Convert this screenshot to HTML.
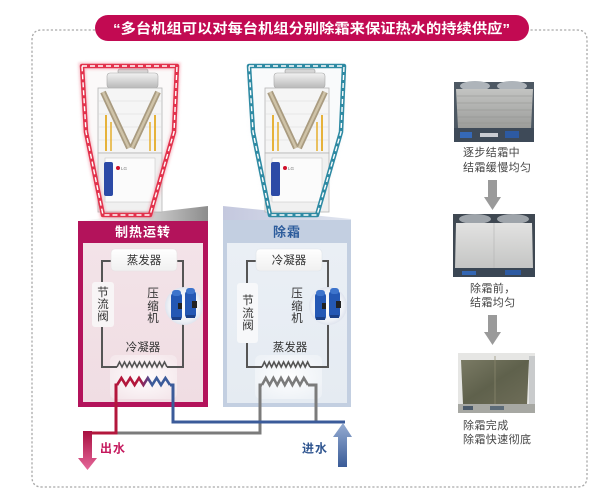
<!DOCTYPE html>
<html><head><meta charset="utf-8">
<style>
html,body{margin:0;padding:0;background:#fff;}
svg{display:block;}
text{font-family:"Liberation Sans","Noto Sans CJK SC",sans-serif;}
</style></head>
<body>
<svg width="616" height="500" viewBox="0 0 616 500" xmlns="http://www.w3.org/2000/svg">
<defs>
  <linearGradient id="gwedge" x1="0" y1="0" x2="1" y2="0">
    <stop offset="0" stop-color="#ffffff"/><stop offset="0.5" stop-color="#d8d8d8"/><stop offset="1" stop-color="#8c8c8c"/>
  </linearGradient>
  <linearGradient id="bwedge" x1="0" y1="0" x2="1" y2="0">
    <stop offset="0" stop-color="#c4c8de"/><stop offset="1" stop-color="#dfe4ef"/>
  </linearGradient>
  <linearGradient id="pinkIn" x1="0" y1="0" x2="0" y2="1">
    <stop offset="0" stop-color="#f3e3e8"/><stop offset="1" stop-color="#f0dde3"/>
  </linearGradient>
  <linearGradient id="blueIn" x1="0" y1="0" x2="0" y2="1">
    <stop offset="0" stop-color="#eaeff5"/><stop offset="1" stop-color="#e5ebf2"/>
  </linearGradient>
  <linearGradient id="boxg" x1="0" y1="0" x2="0" y2="1">
    <stop offset="0" stop-color="#ffffff"/><stop offset="1" stop-color="#f0f0f0"/>
  </linearGradient>
  <radialGradient id="glowbox" cx="0.5" cy="0.5" r="0.6">
    <stop offset="0" stop-color="#ffffff" stop-opacity="0.95"/><stop offset="1" stop-color="#ffffff" stop-opacity="0.3"/>
  </radialGradient>
  <radialGradient id="compc" cx="0.5" cy="0.5" r="0.5">
    <stop offset="0" stop-color="#ffffff"/><stop offset="0.8" stop-color="#eef1f6"/><stop offset="1" stop-color="#dfe4ee"/>
  </radialGradient>
  <linearGradient id="wz" gradientUnits="userSpaceOnUse" x1="117" y1="0" x2="170" y2="0">
    <stop offset="0" stop-color="#b3173c"/><stop offset="0.42" stop-color="#b3173c"/>
    <stop offset="0.55" stop-color="#6e3577"/><stop offset="0.65" stop-color="#3b5b9a"/><stop offset="1" stop-color="#3b5b9a"/>
  </linearGradient>
  <linearGradient id="outArrow" x1="0" y1="0" x2="0" y2="1">
    <stop offset="0" stop-color="#a80f40"/><stop offset="1" stop-color="#e5679a"/>
  </linearGradient>
  <linearGradient id="inArrow" x1="0" y1="0" x2="0" y2="1">
    <stop offset="0" stop-color="#95acd2"/><stop offset="1" stop-color="#3b5c98"/>
  </linearGradient>
  <linearGradient id="fan" x1="0" y1="0" x2="0" y2="1">
    <stop offset="0" stop-color="#f2f2f2"/><stop offset="1" stop-color="#b9b9b9"/>
  </linearGradient>
  <linearGradient id="ph1" x1="0" y1="0" x2="0" y2="1">
    <stop offset="0" stop-color="#c3c4c2"/><stop offset="1" stop-color="#9c9d9a"/>
  </linearGradient>
  <linearGradient id="ph2" x1="0" y1="0" x2="0" y2="1">
    <stop offset="0" stop-color="#e2e2e1"/><stop offset="1" stop-color="#c4c5c4"/>
  </linearGradient>
  <linearGradient id="ph3" x1="0" y1="0" x2="1" y2="1">
    <stop offset="0" stop-color="#7a7a64"/><stop offset="0.5" stop-color="#5f614c"/><stop offset="1" stop-color="#6e6d58"/>
  </linearGradient>
  <filter id="blur3" x="-20%" y="-20%" width="140%" height="140%"><feGaussianBlur stdDeviation="3"/></filter>
  <filter id="blur1" x="-20%" y="-20%" width="140%" height="140%"><feGaussianBlur stdDeviation="1.2"/></filter>

  <g id="unit">
    <rect x="118" y="69" width="30" height="5" rx="2" fill="#d6d6d6" stroke="#999" stroke-width="0.6"/>
    <rect x="107" y="73" width="51" height="15" rx="3" fill="url(#fan)" stroke="#a8a8a8" stroke-width="0.6"/>
    <rect x="98" y="88" width="64" height="65" fill="#f5f5f5" stroke="#b5b5b5" stroke-width="0.8"/>
    <line x1="98" y1="101" x2="162" y2="101" stroke="#d8d8d8" stroke-width="0.6"/>
    <line x1="98" y1="114" x2="162" y2="114" stroke="#d8d8d8" stroke-width="0.6"/>
    <line x1="98" y1="127" x2="162" y2="127" stroke="#d8d8d8" stroke-width="0.6"/>
    <line x1="98" y1="140" x2="162" y2="140" stroke="#d8d8d8" stroke-width="0.6"/>
    <line x1="106" y1="115" x2="106" y2="151" stroke="#e6b23a" stroke-width="2"/>
    <line x1="111" y1="122" x2="111" y2="151" stroke="#e6b23a" stroke-width="1.6"/>
    <line x1="150" y1="122" x2="150" y2="151" stroke="#e6b23a" stroke-width="1.6"/>
    <line x1="155" y1="115" x2="155" y2="151" stroke="#e6b23a" stroke-width="2"/>
    <line x1="103" y1="92" x2="129" y2="148" stroke="#a99b80" stroke-width="6"/>
    <line x1="158" y1="92" x2="132" y2="148" stroke="#a99b80" stroke-width="6"/>
    <line x1="103" y1="92" x2="129" y2="148" stroke="#cfc3a8" stroke-width="2.5"/>
    <line x1="158" y1="92" x2="132" y2="148" stroke="#cfc3a8" stroke-width="2.5"/>
    <rect x="98" y="153" width="64" height="59" fill="#f0f0f0" stroke="#b5b5b5" stroke-width="0.8"/>
    <rect x="105" y="158" width="50" height="44" fill="#fbfbfb" stroke="#c8c8c8" stroke-width="0.6"/>
    <rect x="104" y="162" width="9" height="34" rx="2" fill="#2c4aa6"/>
    <circle cx="118" cy="168" r="2" fill="#d0102a"/>
    <text x="121" y="170" font-size="4.5" fill="#777">LG</text>
  </g>

  <g id="comp">
    <circle cx="0" cy="0" r="19" fill="url(#compc)"/>
    <rect x="-13" y="-13" width="11" height="27" rx="3" fill="#2458b4"/>
    <rect x="-12" y="-16" width="9" height="6" rx="3" fill="#3d74cc"/>
    <rect x="-6" y="-3" width="4" height="6" fill="#222"/>
    <rect x="1" y="-15" width="11" height="27" rx="3" fill="#2458b4"/>
    <rect x="2" y="-18" width="9" height="6" rx="3" fill="#3d74cc"/>
    <rect x="8" y="-5" width="5" height="7" fill="#222"/>
    <rect x="-12" y="11" width="9" height="3" fill="#1a3f86"/>
    <rect x="2" y="9" width="9" height="3" fill="#1a3f86"/>
  </g>
</defs>

<!-- dashed frame -->
<path d="M95,30 L42,30 Q32,30 32,40 L32,477 Q32,487 42,487 L577,487 Q587,487 587,477 L587,40 Q587,30 577,30 L529,30" fill="none" stroke="#a9a9a9" stroke-width="1.3" stroke-dasharray="2.2,2"/>

<!-- title banner -->
<rect x="95" y="15" width="434" height="26" rx="13" fill="#c20a52"/>
<text x="113" y="33.5" font-size="14" font-weight="bold" fill="#ffffff" textLength="397" lengthAdjust="spacingAndGlyphs">“多台机组可以对每台机组分别除霜来保证热水的持续供应”</text>

<!-- ground wedges -->
<polygon points="78,221 208,206 208,221" fill="url(#gwedge)"/>
<polygon points="223,206 351,219 351,221 223,221" fill="url(#bwedge)"/>

<!-- left unit -->
<polygon points="82,66 177,66 174,132 150,215 103,215 86,132" fill="#e9d8dc" opacity="0.6" filter="url(#blur3)"/>
<polygon points="84,68 175,68 172,132 149,213 104,213 88,132" fill="#fbf9f9"/>
<use href="#unit"/>
<polygon points="82,66 177,66 174,132 150,215 103,215 86,132" fill="none" stroke="#f06a80" stroke-width="7" opacity="0.35" filter="url(#blur1)"/>
<polygon points="82,66 177,66 174,132 150,215 103,215 86,132" fill="none" stroke="#e2324c" stroke-width="4.5" stroke-linejoin="round"/>
<polygon points="82,66 177,66 174,132 150,215 103,215 86,132" fill="none" stroke="#ffffff" stroke-width="1.4" stroke-dasharray="5,3"/>

<!-- right unit -->
<g transform="translate(167,0)">
<polygon points="82,66 177,66 174,132 150,215 103,215 86,132" fill="#d5dde3" opacity="0.6" filter="url(#blur3)"/>
<polygon points="84,68 175,68 172,132 149,213 104,213 88,132" fill="#f9fafb"/>
<use href="#unit"/>
<polygon points="82,66 177,66 174,132 150,215 103,215 86,132" fill="none" stroke="#2e8aa3" stroke-width="4.5" stroke-linejoin="round"/>
<polygon points="82,66 177,66 174,132 150,215 103,215 86,132" fill="none" stroke="#ffffff" stroke-width="1.4" stroke-dasharray="5,3"/>
</g>

<!-- left panel -->
<rect x="78" y="221" width="130" height="186" fill="#b3135b"/>
<rect x="83" y="243" width="120" height="159" fill="url(#pinkIn)"/>
<text x="143" y="236.5" font-size="13" font-weight="bold" fill="#ffffff" text-anchor="middle" letter-spacing="1">制热运转</text>

<!-- right panel -->
<rect x="223" y="220" width="128" height="187" fill="#c3cfe1"/>
<rect x="227" y="243" width="120" height="160" fill="url(#blueIn)"/>
<text x="287" y="236.5" font-size="13" font-weight="bold" fill="#2c5c9c" text-anchor="middle" letter-spacing="1">除霜</text>

<!-- glow boxes for coils -->
<rect x="110" y="355" width="67" height="44" rx="6" fill="url(#glowbox)"/>
<rect x="255" y="355" width="67" height="44" rx="6" fill="url(#glowbox)"/>

<!-- left refrigerant loop -->
<g fill="none" stroke="#555" stroke-width="2">
<polyline points="117,367 102,367 102,261 183,261 183,367 167,367"/>
<polyline points="117,367 119.5,362 122,367 124.5,362 127,367 129.5,362 132,367 134.5,362 137,367 139.5,362 142,367 144.5,362 147,367 149.5,362 152,367 154.5,362 157,367 159.5,362 162,367 164.5,362 167,367" stroke-width="1.6"/>
</g>
<!-- right refrigerant loop -->
<g fill="none" stroke="#555" stroke-width="2">
<polyline points="262,367 247,367 247,261 328,261 328,367 310,367"/>
<polyline points="262,367 264.4,362 266.8,367 269.2,362 271.6,367 274,362 276.4,367 278.8,362 281.2,367 283.6,362 286,367 288.4,362 290.8,367 293.2,362 295.6,367 298,362 300.4,367 302.8,362 305.2,367 307.6,362 310,367" stroke-width="1.6"/>
</g>

<!-- labels boxes -->
<rect x="111" y="249" width="66" height="22" rx="4" fill="url(#boxg)" stroke="#e6e0e2" stroke-width="0.6"/>
<text x="144" y="264" font-size="11.5" fill="#333" text-anchor="middle">蒸发器</text>
<rect x="92" y="282" width="22" height="45" rx="3" fill="#f8f5f6"/>
<g font-size="11.5" fill="#333" text-anchor="middle">
<text x="103" y="296">节</text><text x="103" y="308">流</text><text x="103" y="320">阀</text>
<text x="153" y="297">压</text><text x="153" y="310">缩</text><text x="153" y="322">机</text>
<text x="143" y="351">冷凝器</text>
</g>
<use href="#comp" transform="translate(184,306)"/>

<rect x="256" y="249" width="66" height="22" rx="4" fill="url(#boxg)" stroke="#dfe4ea" stroke-width="0.6"/>
<text x="289" y="264" font-size="11.5" fill="#333" text-anchor="middle">冷凝器</text>
<rect x="237" y="283" width="21" height="60" rx="3" fill="#f7f8fa"/>
<g font-size="11.5" fill="#333" text-anchor="middle">
<text x="248" y="304">节</text><text x="248" y="317">流</text><text x="248" y="329">阀</text>
<text x="297" y="297">压</text><text x="297" y="310">缩</text><text x="297" y="322">机</text>
<text x="290" y="351">蒸发器</text>
</g>
<use href="#comp" transform="translate(328,306)"/>

<!-- water pipes -->
<g fill="none" stroke-width="3" stroke-linejoin="miter">
<polyline points="308,385 316,385 316,422" stroke="#7b7b7b"/>
<polyline points="262,385 260,385 260,433 116,433" stroke="#7b7b7b"/>
<polyline points="262,385 265.8,378 269.6,385 273.4,378 277.2,385 281,378 284.8,385 288.6,378 292.4,385 296.2,378 300,385 303.8,378 308,385" stroke="#7b7b7b" stroke-width="2.6"/>
<polyline points="170,385 173,385 173,422 345,422" stroke="#3b5b9a"/>
<polyline points="117,385 116,385 116,433 86,433" stroke="#b3173c"/>
<polyline points="117,385 121.4,378 125.8,385 130.2,378 134.6,385 139,378 143.4,385 147.8,378 152.2,385 156.6,378 161,385 165.4,378 170,385" stroke="url(#wz)" stroke-width="2.6"/>
</g>

<!-- out arrow -->
<path d="M83,431 L92,431 L92,458 L97,458 L87.5,470 L78,458 L83,458 Z" fill="url(#outArrow)"/>
<text x="100" y="452.5" font-size="12" font-weight="bold" fill="#c5185d" letter-spacing="1">出水</text>
<!-- in arrow -->
<path d="M343,423 L352,437 L347,437 L347,467 L338,467 L338,437 L333,437 Z" fill="url(#inArrow)"/>
<text x="302" y="452.5" font-size="12" font-weight="bold" fill="#2f5590" letter-spacing="1">进水</text>

<!-- right column photos -->
<g>
<rect x="454" y="82" width="80" height="60" fill="#4d5863"/>
<ellipse cx="475" cy="86" rx="15" ry="5" fill="#aeb4ba"/>
<ellipse cx="512" cy="86" rx="15" ry="5" fill="#aeb4ba"/>
<polygon points="456,89 533,89 531,128 458,128" fill="url(#ph1)"/>
<g stroke="#8f908d" stroke-width="0.5">
<line x1="457" y1="96" x2="532" y2="96"/><line x1="457" y1="103" x2="532" y2="103"/>
<line x1="457" y1="110" x2="532" y2="110"/><line x1="458" y1="117" x2="531" y2="117"/>
<line x1="458" y1="123" x2="531" y2="123"/>
</g>
<rect x="454" y="128" width="80" height="14" fill="#3e4a58"/>
<rect x="460" y="132" width="12" height="6" fill="#3569b8"/>
<rect x="480" y="133" width="18" height="4" fill="#c9ccd2"/>
<rect x="505" y="131" width="14" height="7" fill="#2d5aa2"/>
</g>
<text x="463" y="156" font-size="11" fill="#444" letter-spacing="0.4">逐步结霜中</text>
<text x="463" y="171" font-size="11" fill="#444" letter-spacing="0.4">结霜缓慢均匀</text>
<path d="M488,180 L497,180 L497,197 L501,197 L492.5,210 L484,197 L488,197 Z" fill="#9a9a9a"/>

<g>
<rect x="453" y="214" width="82" height="63" fill="#3f4852"/>
<ellipse cx="475" cy="219" rx="16" ry="5" fill="#9ea4aa"/>
<ellipse cx="513" cy="219" rx="16" ry="5" fill="#9ea4aa"/>
<polygon points="456,223 532,223 533,268 455,268" fill="url(#ph2)"/>
<line x1="494" y1="223" x2="494" y2="268" stroke="#b3b3b3" stroke-width="0.6"/>
<rect x="453" y="268" width="82" height="9" fill="#3a4654"/>
<rect x="462" y="271" width="14" height="4" fill="#3366b3"/>
<rect x="505" y="270" width="16" height="5" fill="#2d5aa2"/>
</g>
<text x="470" y="292" font-size="11" fill="#444" letter-spacing="0.4">除霜前，</text>
<text x="470" y="306" font-size="11" fill="#444" letter-spacing="0.4">结霜均匀</text>
<path d="M488,315 L497,315 L497,332 L501,332 L492.5,345 L484,332 L488,332 Z" fill="#9a9a9a"/>

<g>
<rect x="458" y="353" width="77" height="60" fill="#e6e6e4"/>
<polygon points="461,360 529,360 527,404 463,404" fill="url(#ph3)"/>
<line x1="495" y1="356" x2="495" y2="404" stroke="#8e8a70" stroke-width="0.7"/>
<rect x="529" y="356" width="6" height="50" fill="#c9cbcc"/>
<rect x="458" y="404" width="77" height="9" fill="#a7a8a3"/>
<rect x="463" y="406" width="10" height="4" fill="#4b5a6a"/>
<rect x="490" y="406" width="14" height="4" fill="#5c6b78"/>
</g>
<text x="463" y="429" font-size="11" fill="#444" letter-spacing="0.4">除霜完成</text>
<text x="463" y="443" font-size="11" fill="#444" letter-spacing="0.4">除霜快速彻底</text>
</svg>
</body></html>
